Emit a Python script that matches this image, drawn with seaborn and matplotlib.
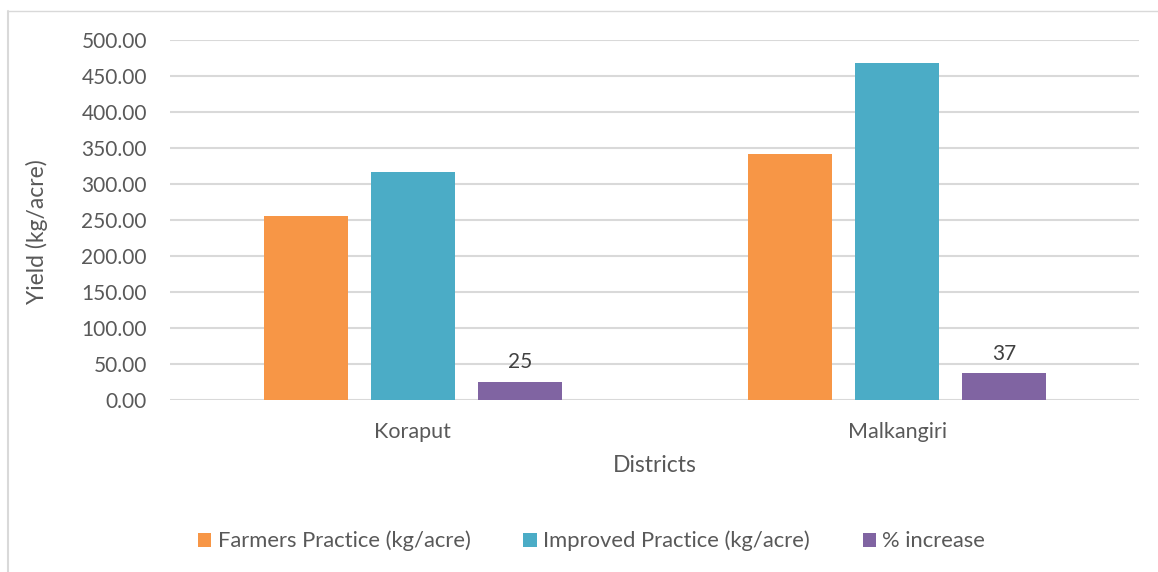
import matplotlib
matplotlib.use("Agg")
import matplotlib.pyplot as plt
from matplotlib.lines import Line2D
from matplotlib.patches import Patch
import seaborn as sns
import pandas as pd

districts = ["Koraput", "Malkangiri"]
series = ["Farmers Practice (kg/acre)", "Improved Practice (kg/acre)", "% increase"]
farmers = [255, 342]
improved = [317, 468]
increase = [25, 37]
colors = ["#F79646", "#4BACC6", "#8064A2"]

rows = []
for i, d in enumerate(districts):
    rows.append((d, series[0], farmers[i]))
    rows.append((d, series[1], improved[i]))
    rows.append((d, series[2], increase[i]))
df = pd.DataFrame(rows, columns=["District", "Series", "Value"])

sns.set_theme(style="white")
plt.rcParams["font.family"] = ["Lato", "DejaVu Sans"]

fig = plt.figure(figsize=(11.58, 5.72), dpi=100)
ax = fig.add_axes([0.1472, 0.3007, 0.8368, 0.6293])

sns.barplot(data=df, x="District", y="Value", hue="Series", palette=colors,
            width=0.662, gap=0.215, ax=ax, legend=False, saturation=1,
            edgecolor="none")

ax.set_ylim(0, 500)
ax.set_xlim(-0.5, 1.5)
ax.set_yticks(range(0, 501, 50))
ax.set_yticklabels([f"{v:.2f}" for v in range(0, 501, 50)])
ax.yaxis.grid(True, color="#D9D9D9", linewidth=1.5)
ax.set_axisbelow(True)
for s in ax.spines.values():
    s.set_visible(False)
ax.tick_params(axis="y", length=0, labelsize=15, colors="#595959", pad=17)
ax.tick_params(axis="x", length=0, labelsize=15.5, colors="#595959", pad=16)
ax.set_xlabel("Districts", fontsize=16.5, color="#595959")
ax.set_ylabel("Yield (kg/acre)", fontsize=16.5, color="#595959")
ax.xaxis.set_label_coords(0.5, -0.152)
ax.yaxis.set_label_coords(-0.126, 0.467)

# data labels for % increase
pct_container = ax.containers[2]
ax.bar_label(pct_container, labels=[str(v) for v in increase], padding=7,
             fontsize=15, color="#404040")

handles = [Patch(facecolor=c, edgecolor="none") for c in colors]
fig.legend(handles, series, loc="center", bbox_to_anchor=(0.511, 0.054), ncol=3,
           frameon=False, fontsize=15.8, handlelength=0.6, handleheight=0.6,
           columnspacing=2.4, handletextpad=0.3, labelcolor="#595959")

# chart border (top and left)
fig.add_artist(Line2D([8 / 1158, 1.0], [1 - 11 / 572, 1 - 11 / 572],
                      transform=fig.transFigure, color="#D9D9D9", linewidth=1))
fig.add_artist(Line2D([8 / 1158, 8 / 1158], [0, 1 - 11 / 572],
                      transform=fig.transFigure, color="#D9D9D9", linewidth=1.5))

fig.savefig("out.png", dpi=100, facecolor="white")
